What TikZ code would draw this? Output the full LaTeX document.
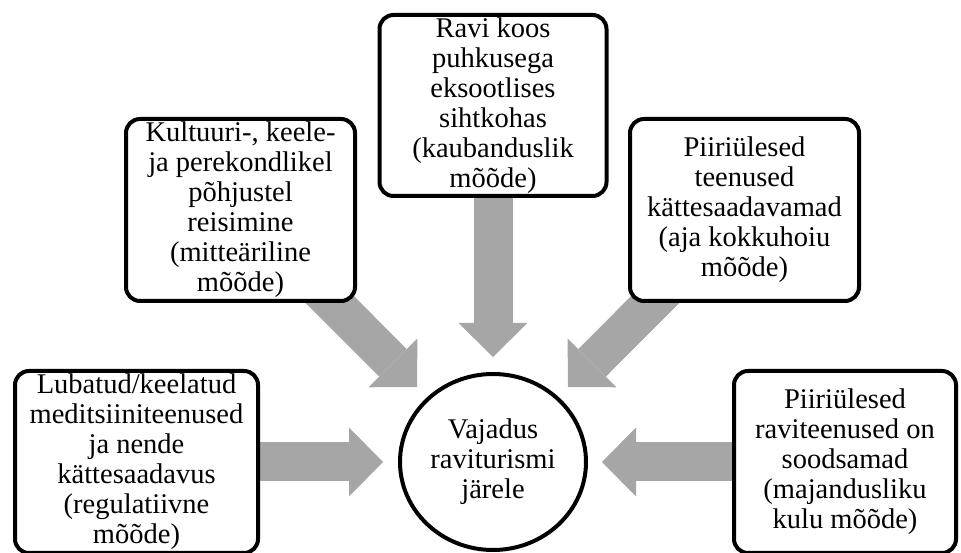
\documentclass[tikz,border=0pt]{standalone}
\usepackage{fontspec}
\setmainfont{Liberation Serif}
\usetikzlibrary{arrows.meta,backgrounds,shapes.geometric}

\tikzset{
  factor/.style={draw, line width=4pt, rounded corners=14pt, fill=white, align=center, inner sep=0pt},
  pull/.style={line width=39pt, black!35, -{Triangle[width=69pt, length=34pt, line width=0pt]}},
}

\begin{document}
\begin{tikzpicture}[x=1pt, y=1pt, font=\fontsize{28.5}{30}\selectfont]
        \useasboundingbox (0, 0) rectangle (961, 553);
        % the five factors
        \node[factor, minimum width=227pt, minimum height=181pt] (ravi) at (493, 447.5) {Ravi koos\\puhkusega\\eksootlises\\sihtkohas\\(kaubanduslik\\mõõde)};
        \node[factor, minimum width=229pt, minimum height=182pt] (kult) at (240.5, 343) {Kultuuri-, keele-\\ja perekondlikel\\põhjustel\\reisimine\\(mitteäriline\\mõõde)};
        \node[factor, minimum width=229pt, minimum height=182pt] (piir) at (744.5, 343) {Piiriülesed\\teenused\\kättesaadavamad\\(aja kokkuhoiu\\mõõde)};
        \node[factor, minimum width=243pt, minimum height=182pt] (lub) at (136.5, 91) {Lubatud/keelatud\\meditsiiniteenused\\ja nende\\kättesaadavus\\(regulatiivne\\mõõde)};
        \node[factor, minimum width=222pt, minimum height=182pt] (sood) at (845, 91) {Piiriülesed\\raviteenused on\\soodsamad\\(majandusliku\\kulu mõõde)};
        % the need in the middle
        \node[draw, ellipse, line width=4pt, fill=white, align=center, inner sep=0pt, minimum width=186pt, minimum height=176pt] (need) at (493, 91) {Vajadus\\raviturismi\\järele};
        \coordinate (in-lub) at (383, 91);
        \coordinate (in-sood) at (602, 91);
        \coordinate (in-ravi) at (493, 196);
        \coordinate (in-kult) at (417, 166);
        \coordinate (in-piir) at (568, 166);
        \begin{scope}[on background layer]
                \draw[pull] (lub.center) -- (in-lub);
                \draw[pull] (sood.center) -- (in-sood);
                \draw[pull] (ravi.center) -- (in-ravi);
                \draw[pull] (kult.center) -- (in-kult);
                \draw[pull] (piir.center) -- (in-piir);
        \end{scope}
\end{tikzpicture}
\end{document}
